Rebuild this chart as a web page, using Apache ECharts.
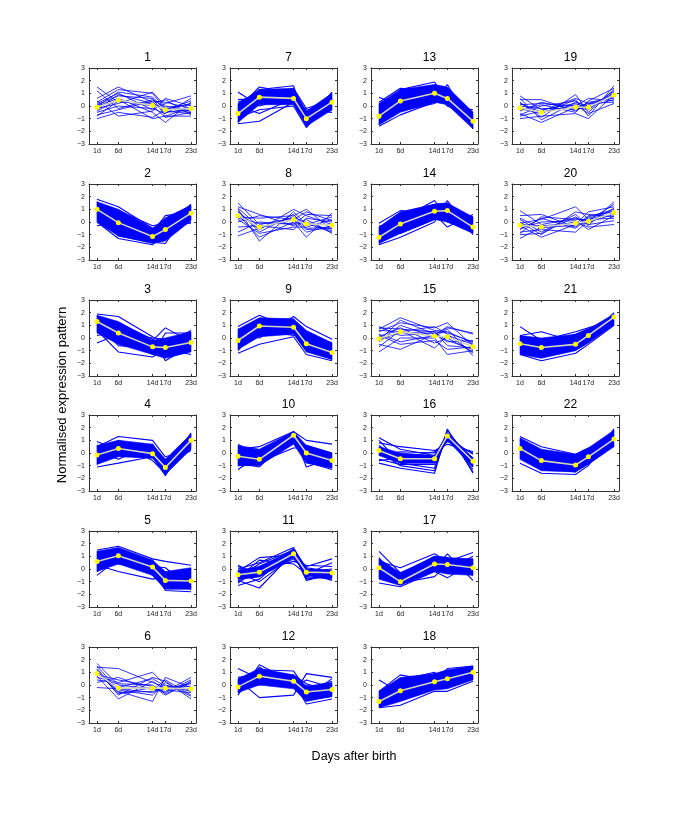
<!DOCTYPE html>
<html><head><meta charset="utf-8">
<script src="https://cdn.jsdelivr.net/npm/echarts@6/dist/echarts.min.js"></script>
<style>html,body{margin:0;padding:0;background:#fff}#c{width:685px;height:814px}</style>
</head><body><div id="c"></div>
<script>
// ---------- tick labels / categories ----------
const days = [1, 6, 14, 17, 23];
const dayLabels = ['1d', '6d', '14d', '17d', '23d'];
const yTicks = [-3, -2, -1, 0, 1, 2, 3];
const yTickLabels = ['\u22123', '\u22122', '\u22121', '0', '1', '2', '3'];
const yAxisTitle = 'Normalised expression pattern';
const xAxisTitle = 'Days after birth';

// ---------- cluster data (values at 1d, 6d, 14d, 17d, 23d) ----------
const c1_mean = [-0.1, 0.45, 0.05, -0.3, -0.2];
const c1_lines = [
 [1.5,0.3,0.2,-0.4,-0.6],[1.2,-0.2,0.5,-0.1,0.1],[0.6,1.5,0.3,-0.5,-0.3],[0.3,1.3,1.0,-0.2,-0.5],
 [0.2,1.0,-0.3,0.2,0.8],[0.1,0.8,0.6,-0.8,-0.1],[0.0,0.6,-0.5,-1.3,0.3],[-0.2,0.2,1.1,0.0,-0.4],
 [-0.3,0.9,0.2,0.5,-0.7],[-0.5,0.0,-0.2,-0.6,0.6],[-0.7,-0.3,0.4,0.3,-0.2],[-1.0,-0.5,-0.9,-0.3,0.4],
 [0.4,-0.8,-0.4,0.6,0.0],[-0.4,0.5,-1.0,-0.8,-0.8],[0.0,1.1,0.7,-0.3,0.2],[-0.8,0.4,0.0,-0.9,-0.5]];

const c2_mean = [1.0, -0.05, -1.15, -0.6, 0.7];
const c2_lo = [0.0, -1.1, -1.7, -1.5, 0.1];
const c2_hi = [1.6, 1.0, -0.5, 0.3, 1.3];
const c2_lines = [
 [1.8,1.2,-0.5,-0.3,1.4],[-0.3,0.0,-0.8,0.5,0.8],[0.0,-1.3,-1.8,-0.8,0.0],[1.6,-1.1,-1.6,-1.7,1.2],
 [0.5,0.9,-0.3,-0.1,-0.1],[1.2,-0.4,-1.3,0.3,1.3],[0.8,0.3,-1.0,-1.4,0.5],[1.4,-0.8,-0.6,-0.9,0.9]];

const c3_mean = [1.3, 0.4, -0.7, -0.75, -0.35];
const c3_lo = [0.4, -0.5, -1.3, -1.6, -1.1];
const c3_hi = [1.8, 1.3, -0.2, 0.0, 0.5];
const c3_lines = [
 [1.9,1.7,0.1,-0.5,0.6],[-0.4,0.3,-0.2,0.8,-0.3],[0.6,-1.1,-1.5,-0.9,-1.3],[1.5,1.2,-0.1,-1.8,-0.6],
 [0.9,0.8,-1.3,0.4,0.4],[1.2,-0.6,-0.8,-1.4,-1.0],[0.2,0.5,0.0,-0.1,-0.8],[1.7,0.0,-1.0,-0.6,0.1]];

const c4_mean = [-0.15, 0.35, -0.05, -1.15, 1.0];
const c4_lo = [-0.9, -0.3, -0.4, -1.7, 0.3];
const c4_hi = [0.6, 1.0, 0.7, -0.5, 1.5];
const c4_lines = [
 [0.9,0.2,0.4,-0.5,0.6],[-1.1,-0.8,-0.3,-1.8,1.5],[0.5,1.3,1.0,-0.3,0.3],[-0.8,0.8,-0.6,-1.6,1.6],
 [0.2,-0.5,0.7,-1.0,0.2],[-0.4,1.0,0.0,-1.4,1.2],[0.6,-0.2,-0.4,-0.7,0.9],[-0.9,0.4,0.6,-1.2,1.4]];

const c5_mean = [0.6, 1.05, 0.15, -0.9, -0.95];
const c5_lo = [-0.2, 0.4, -0.5, -1.6, -1.6];
const c5_hi = [1.4, 1.7, 0.7, -0.2, 0.1];
const c5_lines = [
 [1.5,1.8,0.8,0.6,0.3],[-0.5,0.8,-0.1,-1.7,-1.8],[0.3,-0.2,-0.8,-0.6,-1.2],[1.3,1.6,0.5,-1.2,-0.5],
 [0.8,0.4,0.2,0.1,-1.5],[-0.2,1.2,-0.5,-1.5,0.0],[1.0,0.9,0.7,-0.8,-0.9],[0.5,1.5,-0.3,-1.0,-1.6]];

const c6_mean = [0.9, -0.25, -0.25, -0.25, -0.3];
const c6_lines = [
 [1.7,0.0,-0.3,-0.5,0.6],[1.4,1.3,0.2,-0.2,-0.4],[1.2,-0.8,0.6,0.3,-1.1],[1.0,-0.5,-1.3,0.6,-0.2],
 [0.8,0.4,-0.1,-0.8,0.3],[0.7,-1.1,0.3,-0.4,-0.6],[0.6,0.2,1.0,0.0,-0.5],[-0.2,-0.3,-0.6,-0.3,0.1],
 [0.2,0.6,-0.4,0.4,-0.8],[1.1,-0.7,-0.2,-0.6,0.4],[0.9,-0.2,0.5,-0.1,-0.3],[1.5,-0.4,-0.8,0.2,-0.9],
 [0.4,0.1,0.0,-0.7,0.2],[1.3,-0.6,-0.5,-0.2,-0.1]];

const c7_mean = [-0.6, 0.7, 0.6, -1.0, 0.3];
const c7_lo = [-1.3, 0.1, 0.1, -1.6, -0.3];
const c7_hi = [0.2, 1.3, 1.4, -0.4, 1.0];
const c7_lines = [
 [1.1,0.0,0.8,-0.5,0.2],[0.5,0.6,0.5,-0.3,-0.5],[-0.2,1.5,1.0,-1.2,1.1],[-1.4,-1.2,0.3,-0.9,0.0],
 [-0.9,-0.3,0.0,-1.7,0.6],[-1.3,1.3,1.6,-1.6,0.9],[0.3,1.0,0.2,-0.8,-0.3],[-0.7,0.4,1.4,-0.2,0.5],
 [-1.2,0.9,0.7,-1.5,1.0],[0.0,-0.6,0.6,-1.1,0.3]];

const c8_mean = [0.5, -0.4, 0.2, -0.15, -0.25];
const c8_lines = [
 [1.5,-0.2,0.3,-0.6,-0.5],[1.2,0.6,-0.3,0.2,-0.9],[1.0,-1.5,0.8,-0.2,0.4],[0.8,-0.6,1.0,0.5,-0.2],
 [0.6,-1.2,0.0,-1.2,0.7],[0.4,0.3,0.5,1.0,-0.6],[0.2,-0.9,-0.4,-0.4,0.2],[0.0,0.5,0.2,-0.8,-0.3],
 [-0.4,-0.3,-0.6,0.3,0.0],[-1.1,-0.5,0.4,-0.1,-0.8],[-0.8,0.0,-0.2,0.6,0.5],[0.9,-0.8,0.6,-0.5,-0.4],
 [0.3,-0.1,-0.1,0.0,-0.7],[1.1,-0.4,0.2,0.8,0.1]];

const c9_mean = [-0.2, 0.95, 0.85, -0.45, -1.15];
const c9_lo = [-0.9, 0.1, 0.3, -1.1, -1.7];
const c9_hi = [0.7, 1.6, 1.5, 0.6, -0.4];
const c9_lines = [
 [0.9,1.8,0.7,-0.2,-0.9],[-1.2,-0.5,0.1,-1.3,-1.8],[0.5,0.0,1.7,0.9,-0.1],[-0.9,1.5,1.5,-1.0,-1.6],
 [0.2,0.6,0.2,0.5,-0.4],[-0.5,1.2,0.9,-0.7,-1.3],[0.7,0.3,1.2,0.2,-0.6],[-1.0,0.9,0.5,-0.5,-1.7]];

const c10_mean = [-0.25, -0.5, 1.4, 0.0, -0.6];
const c10_lo = [-1.0, -1.0, 0.7, -0.8, -1.2];
const c10_hi = [0.6, 0.3, 1.7, 0.6, 0.0];
const c10_lines = [
 [0.7,-0.3,1.3,0.2,-0.5],[-1.3,-0.2,0.9,-0.7,-1.3],[0.3,0.5,1.7,1.0,0.7],[-0.8,-1.1,1.5,-1.1,-0.4],
 [0.1,-0.7,0.4,0.4,-0.8],[-0.5,0.2,1.2,-0.3,-1.0],[-1.0,-0.9,0.8,0.6,0.0]];

const c11_mean = [-0.45, -0.25, 1.2, -0.25, -0.3];
const c11_lo = [-0.8, -0.6, 0.9, -0.5, -0.7];
const c11_hi = [-0.1, 0.2, 1.5, 0.0, -0.1];
const c11_lines = [
 [0.3,-0.5,0.9,0.0,-0.3],[-1.3,-0.8,1.5,-0.5,-0.8],[-0.2,0.9,1.1,0.2,0.8],[-0.9,-1.5,1.3,-0.9,-0.4],
 [0.0,0.5,1.7,-0.1,-0.6],[-0.5,-0.1,0.6,0.3,0.2],[-1.0,0.2,1.4,-0.7,-0.7],[-0.3,-1.0,1.0,-0.3,-0.9],
 [-0.7,0.7,0.4,-0.4,0.5],[-0.1,-0.3,1.6,0.1,-0.2],[-1.1,0.0,1.2,-0.8,-0.5],[0.2,-0.6,0.8,-0.2,0.0],
 [-0.6,0.4,1.5,-0.6,-0.1],[-0.4,-0.2,1.1,0.0,-0.4],[-0.8,-0.6,1.3,-0.4,-0.6],[-0.2,0.1,1.4,-0.1,-0.5]];

const c12_mean = [-0.15, 0.7, 0.3, -0.55, -0.35];
const c12_lo = [-0.6, 0.0, -0.3, -1.3, -0.9];
const c12_hi = [0.5, 1.3, 0.8, -0.1, 0.2];
const c12_lines = [
 [1.3,0.5,0.8,0.1,-0.5],[-0.8,1.6,0.2,-1.5,-1.1],[0.4,-1.0,-0.8,0.9,0.6],[-0.5,1.2,1.1,-0.3,0.3],
 [0.1,0.0,0.4,-1.2,-0.9],[-0.3,1.4,-0.2,0.4,-0.2],[0.6,0.8,0.6,-0.8,0.1],[-0.6,0.3,0.0,0.0,-0.8],
 [0.2,1.0,0.5,-0.5,-0.4],[-0.2,0.6,0.3,-1.0,0.5]];

const c13_mean = [-0.8, 0.4, 1.0, 0.6, -1.2];
const c13_lo = [-1.5, -0.5, 0.3, 0.1, -1.8];
const c13_hi = [0.2, 1.3, 1.7, 1.5, -0.5];
const c13_lines = [
 [0.7,0.0,0.8,0.5,-1.0],[0.3,1.4,1.2,0.0,-0.3],[-1.6,-0.7,0.3,1.7,-1.8],[-0.5,1.3,1.9,0.4,-1.4],
 [-1.0,-0.4,0.2,0.9,-0.5],[-1.4,0.9,1.6,1.4,-1.7],[0.1,0.6,1.1,0.0,-0.8],[-0.8,1.1,0.5,1.2,-1.2]];

const c14_mean = [-1.2, -0.15, 0.85, 0.9, -0.4];
const c14_lo = [-1.7, -0.9, 0.2, 0.0, -0.9];
const c14_hi = [-0.4, 0.8, 1.4, 1.5, 0.4];
const c14_lines = [
 [-0.1,0.9,0.6,-0.4,0.6],[-1.8,-1.2,0.0,1.7,-1.0],[-0.5,0.2,1.7,0.3,-0.2],[-1.6,0.7,1.4,1.5,-0.9],
 [-0.9,-0.9,0.2,0.7,0.3],[-1.3,0.5,1.0,0.0,-0.6],[-0.3,-0.4,0.8,1.2,0.4],[-1.7,-0.1,1.3,1.0,-0.8]];

const c15_mean = [-0.05, 0.5, 0.15, 0.1, -0.7];
const c15_lines = [
 [0.9,0.2,0.4,-0.2,-0.9],[0.7,1.6,0.6,0.5,-0.4],[0.5,1.2,0.8,1.2,-0.6],[0.3,-0.3,0.2,0.9,0.3],
 [0.1,0.8,-0.4,0.0,-1.1],[-0.1,0.4,0.5,-0.6,-0.8],[-0.3,1.0,0.1,0.7,-1.4],[-0.5,-0.9,0.3,-0.3,-0.2],
 [-0.7,0.6,-0.8,0.2,-0.5],[-1.1,0.0,0.0,-1.3,-1.0],[0.6,0.5,0.9,0.3,-1.2],[-0.2,1.4,0.3,0.8,0.4],
 [0.2,-0.5,-0.2,-0.9,-0.7],[0.8,0.7,0.5,0.4,-0.3]];

const c16_mean = [0.2, -0.45, -0.45, 1.35, -0.65];
const c16_lo = [-0.2, -0.8, -0.8, 1.0, -1.1];
const c16_hi = [0.5, 0.0, -0.2, 1.6, -0.4];
const c16_lines = [
 [1.2,0.3,-0.2,1.1,-0.4],[-0.8,-1.2,-1.6,1.9,-1.6],[0.8,0.5,0.2,0.7,0.1],[-0.5,-0.9,-0.9,1.5,-1.3],
 [0.3,-0.2,-0.4,1.2,-0.1],[1.0,-0.8,-1.2,1.8,-0.9],[-0.2,0.1,0.0,1.0,-0.6],[0.6,-0.6,-0.6,1.4,-1.1],
 [-0.6,-0.4,0.1,0.9,0.0],[0.1,-1.0,-1.4,1.6,-1.5]];

const c17_mean = [0.1, -1.0, 0.4, 0.35, 0.1];
const c17_lo = [-0.8, -1.3, -0.2, -0.4, -0.5];
const c17_hi = [0.8, -0.3, 1.0, 0.9, 0.8];
const c17_lines = [
 [1.4,-0.3,0.8,0.2,-0.5],[-1.1,-1.4,-0.2,-0.7,0.5],[0.6,0.1,1.2,0.6,1.3],[-0.7,-0.9,0.0,1.2,-0.9],
 [0.9,-1.2,0.5,-0.3,0.8],[-0.3,-0.5,1.0,0.9,-0.4],[0.3,-1.1,-0.6,0.4,0.2],[-0.5,-0.7,0.6,-0.1,1.0]];

const c18_mean = [-1.3, -0.45, 0.25, 0.5, 1.0];
const c18_lo = [-1.8, -1.3, -0.4, -0.3, 0.4];
const c18_hi = [-0.5, 0.6, 0.9, 1.2, 1.5];
const c18_lines = [
 [0.4,-0.6,0.9,0.2,0.5],[-1.8,-1.6,-0.5,-0.5,0.3],[-0.5,0.8,0.3,1.3,1.5],[-1.5,0.4,1.0,0.0,1.2],
 [-1.2,-1.2,-0.3,0.8,0.7],[-0.9,-0.2,0.6,1.1,1.4]];

const c19_mean = [-0.15, -0.5, -0.1, -0.1, 0.85];
const c19_lines = [
 [0.8,-0.3,0.2,-0.2,1.0],[0.5,0.5,-0.4,0.3,0.6],[0.3,-0.9,0.9,-0.5,1.3],[0.1,0.2,0.0,0.6,0.4],
 [-0.2,-0.6,0.5,-0.8,1.6],[-0.4,0.3,-0.3,0.1,0.8],[-0.6,-1.3,-0.1,-0.3,1.1],[-0.8,-0.4,0.6,0.2,0.3],
 [-1.0,-0.8,-0.6,-1.0,0.9],[0.6,-1.1,0.3,0.0,0.5],[-0.3,0.1,-0.5,0.4,1.4],[0.2,-0.5,0.1,-0.6,0.2],
 [-0.7,0.0,0.4,-0.2,1.2],[0.0,-0.2,-0.2,0.2,0.7]];

const c20_mean = [-0.25, -0.4, -0.1, 0.05, 0.75];
const c20_lines = [
 [0.9,-0.2,0.3,0.0,0.6],[0.5,0.6,-0.4,0.4,1.0],[0.2,-0.8,0.6,-0.3,1.6],[-0.1,0.2,1.2,0.2,0.3],
 [-0.3,-1.2,-0.2,0.8,1.2],[-0.5,0.0,0.1,-0.6,0.5],[-0.8,-0.6,-0.8,0.1,1.4],[-1.0,-0.9,0.4,-0.2,0.1],
 [-1.3,-0.4,-0.3,0.5,0.8],[0.3,-0.5,0.0,-0.4,-0.2],[-0.6,0.3,-0.5,0.3,0.9],[0.0,-1.0,0.8,0.6,0.4],
 [-0.2,-0.3,-0.1,-0.1,1.1],[-0.9,0.4,0.2,0.2,0.7]];

const c21_mean = [-0.45, -0.75, -0.5, 0.2, 1.65];
const c21_lo = [-1.3, -1.6, -1.0, -0.4, 1.0];
const c21_hi = [0.2, 0.0, 0.3, 0.7, 1.9];
const c21_lines = [
 [0.9,-0.2,0.5,0.8,1.4],[-1.3,-1.8,-1.2,-0.5,1.0],[0.2,0.5,-0.3,0.0,2.0],[-0.8,-0.6,0.3,0.7,1.7],
 [-1.1,-1.5,-0.6,-0.1,1.3],[-0.2,-0.9,0.0,0.4,1.8]];

const c22_mean = [0.35, -0.6, -0.95, -0.3, 1.1];
const c22_lo = [-0.5, -1.4, -1.5, -0.9, 0.5];
const c22_hi = [1.2, 0.3, -0.1, 0.4, 1.8];
const c22_lines = [
 [1.3,0.5,-0.1,0.4,0.6],[-0.8,-1.6,-1.7,-1.0,1.9],[0.9,-0.1,-0.3,-0.5,1.3],[-0.4,-1.2,-1.5,0.3,0.5],
 [0.2,-0.3,-0.7,-0.8,1.7],[1.0,-0.9,-1.2,0.0,1.0]];

// ---------- assemble ----------
const panels = [
 {n:1, mean:c1_mean, lines:c1_lines},
 {n:2, mean:c2_mean, lines:c2_lines, lo:c2_lo, hi:c2_hi},
 {n:3, mean:c3_mean, lines:c3_lines, lo:c3_lo, hi:c3_hi},
 {n:4, mean:c4_mean, lines:c4_lines, lo:c4_lo, hi:c4_hi},
 {n:5, mean:c5_mean, lines:c5_lines, lo:c5_lo, hi:c5_hi},
 {n:6, mean:c6_mean, lines:c6_lines},
 {n:7, mean:c7_mean, lines:c7_lines, lo:c7_lo, hi:c7_hi},
 {n:8, mean:c8_mean, lines:c8_lines},
 {n:9, mean:c9_mean, lines:c9_lines, lo:c9_lo, hi:c9_hi},
 {n:10, mean:c10_mean, lines:c10_lines, lo:c10_lo, hi:c10_hi},
 {n:11, mean:c11_mean, lines:c11_lines, lo:c11_lo, hi:c11_hi},
 {n:12, mean:c12_mean, lines:c12_lines, lo:c12_lo, hi:c12_hi},
 {n:13, mean:c13_mean, lines:c13_lines, lo:c13_lo, hi:c13_hi},
 {n:14, mean:c14_mean, lines:c14_lines, lo:c14_lo, hi:c14_hi},
 {n:15, mean:c15_mean, lines:c15_lines},
 {n:16, mean:c16_mean, lines:c16_lines, lo:c16_lo, hi:c16_hi},
 {n:17, mean:c17_mean, lines:c17_lines, lo:c17_lo, hi:c17_hi},
 {n:18, mean:c18_mean, lines:c18_lines, lo:c18_lo, hi:c18_hi},
 {n:19, mean:c19_mean, lines:c19_lines},
 {n:20, mean:c20_mean, lines:c20_lines},
 {n:21, mean:c21_mean, lines:c21_lines, lo:c21_lo, hi:c21_hi},
 {n:22, mean:c22_mean, lines:c22_lines, lo:c22_lo, hi:c22_hi}
];

const FONT = '"Liberation Sans", Arial, Helvetica, sans-serif';
const gridTops = [68, 184, 300, 415, 531, 647];
const gridLefts = [89, 230, 371, 512];
const GW = 107, GH = 76;
const BLUE = '#0000ff';
const AXC = '#333333';
const dayLabelOf = v => dayLabels[days.indexOf(v)] || '';
const yLabelOf = v => yTickLabels[yTicks.indexOf(v)] || '';
const toXY = arr => days.map((d, k) => [d, arr[k]]);

// dense core of a cluster: one polygon between lower and upper edge, placed via the axes
function bandRender(params, api) {
  if (params.dataIndexInside !== 0) return null;
  const n = params.dataInsideLength;
  const upper = [], lower = [];
  for (let k = 0; k < n; k++) {
    upper.push(api.coord([api.value(0, k), api.value(2, k)]));
    lower.push(api.coord([api.value(0, k), api.value(1, k)]));
  }
  return {type:'polygon', shape:{points: upper.concat(lower.reverse())}, style:{fill:BLUE, stroke:BLUE, lineWidth:0.6}};
}

const option = {animation:false, backgroundColor:'#fff', title:[], grid:[], xAxis:[], yAxis:[], series:[], graphic:[]};

panels.forEach((p, i) => {
  const col = Math.floor((p.n - 1) / 6), row = (p.n - 1) % 6;
  const left = gridLefts[col], top = gridTops[row];
  option.grid.push({left:left, top:top, width:GW, height:GH});
  option.title.push({text:String(p.n), left:left + GW/2, top:top - 21, textAlign:'center',
    textStyle:{fontSize:12, fontWeight:'normal', color:'#000', fontFamily:FONT}});
  const xBase = {gridIndex:i, type:'value', min:-0.8723, max:24.1702, splitLine:{show:false}, z:20,
    axisLine:{show:true, onZero:false, lineStyle:{color:AXC, width:1}},
    axisTick:{show:true, inside:true, length:2, customValues:days, lineStyle:{color:AXC}}};
  option.xAxis.push(Object.assign({}, xBase, {position:'bottom',
    axisLabel:{show:true, customValues:days, formatter:dayLabelOf, fontSize:7, margin:4, color:'#222', fontFamily:FONT}}));
  option.xAxis.push(Object.assign({}, xBase, {position:'top', axisLabel:{show:false}}));
  const yBase = {gridIndex:i, type:'value', min:-3, max:3, interval:1, splitLine:{show:false}, z:20,
    axisLine:{show:true, onZero:false, lineStyle:{color:AXC, width:1}},
    axisTick:{show:true, inside:true, length:2, lineStyle:{color:AXC}}};
  option.yAxis.push(Object.assign({}, yBase, {position:'left',
    axisLabel:{show:true, formatter:yLabelOf, fontSize:7, margin:4, color:'#222', fontFamily:FONT}}));
  option.yAxis.push(Object.assign({}, yBase, {position:'right', axisLabel:{show:false}}));
  const xi = 2*i, yi = 2*i;
  if (p.lo) {
    option.series.push({type:'custom', xAxisIndex:xi, yAxisIndex:yi, renderItem:bandRender, silent:true, z:1,
      data: days.map((d, k) => [d, p.lo[k], p.hi[k]]), encode:{x:0, y:[1, 2]}});
  }
  p.lines.forEach(l => {
    option.series.push({type:'line', xAxisIndex:xi, yAxisIndex:yi, data:toXY(l), symbol:'none', silent:true,
      lineStyle:{color:BLUE, width:p.lo ? 1.1 : 0.8}, z:2});
  });
  option.series.push({type:'line', xAxisIndex:xi, yAxisIndex:yi, data:toXY(p.mean), symbol:'circle', symbolSize:5,
    silent:true, itemStyle:{color:'#ffff00', borderWidth:0}, lineStyle:{color:'#d4d4bc', width:1.6}, z:5});
});

option.graphic.push({type:'text', x:62, y:395, rotation:Math.PI/2,
  style:{text:yAxisTitle, fontSize:13, fontFamily:FONT, fill:'#000', align:'center', verticalAlign:'middle'}});
option.graphic.push({type:'text', x:354, y:757,
  style:{text:xAxisTitle, fontSize:12.5, fontFamily:FONT, fill:'#000', align:'center', verticalAlign:'middle'}});

const chart = echarts.init(document.getElementById('c'), null, {renderer:'canvas'});
chart.setOption(option);
</script></body></html>
